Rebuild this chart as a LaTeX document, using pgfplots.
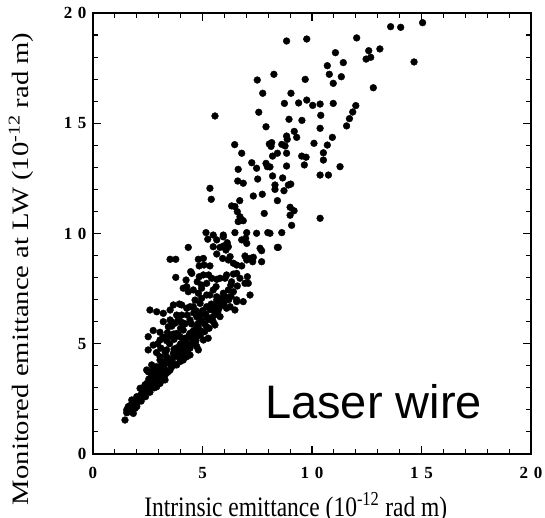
\documentclass[border=0pt]{standalone}
\usepackage{pgfplots}
\pgfplotsset{compat=1.18}
\usepackage{graphicx}
\usepackage{fontspec}
\setmainfont{Liberation Serif}
\newfontfamily\arialfont{Liberation Sans}
\pgfplotstableread{
x y
8.84 18.73
9.76 18.82
12.04 18.87
13.59 19.38
14.05 19.35
15.05 19.56
11.07 18.20
12.59 18.29
13.10 18.37
12.47 17.91
12.68 17.99
11.43 17.75
10.70 17.61
14.66 17.78
8.26 17.22
10.79 17.22
11.34 17.11
9.69 16.99
10.97 16.81
12.80 16.61
9.04 16.36
8.74 15.90
9.39 15.92
9.76 16.05
10.03 15.81
10.37 15.87
10.97 15.90
12.00 15.80
11.86 15.51
11.71 15.21
11.58 14.88
10.40 15.36
8.95 15.18
9.54 15.13
10.37 14.77
9.19 14.63
8.84 14.42
8.87 14.27
9.30 14.36
8.16 14.12
8.62 14.04
8.77 13.97
10.09 14.09
10.70 14.01
10.93 14.36
10.37 12.65
10.75 12.65
11.28 13.03
10.52 13.33
10.52 13.66
9.65 13.11
9.53 13.51
9.73 13.46
10.37 10.69
8.20 13.51
8.42 13.64
8.84 13.64
8.84 13.06
8.08 13.02
8.20 12.61
8.66 12.52
8.31 12.20
8.31 12.00
8.72 11.94
8.92 12.20
9.03 12.24
8.42 11.49
9.00 11.19
9.18 11.03
9.00 10.83
9.07 10.37
8.62 10.04
8.08 10.01
8.42 9.37
7.50 16.96
7.75 16.36
7.57 15.50
5.57 15.33
7.90 14.84
6.47 14.03
8.05 14.06
8.13 13.95
6.79 13.64
7.25 13.21
7.47 12.96
7.90 13.18
7.96 13.03
6.63 12.91
7.52 12.47
6.61 12.38
6.86 12.28
5.34 12.05
5.40 11.55
7.32 11.70
7.73 11.78
6.70 11.49
6.33 11.25
6.48 11.22
6.59 10.99
6.71 10.76
6.79 10.61
6.63 10.54
6.86 10.58
7.82 10.91
5.16 10.04
5.49 9.93
5.95 9.93
6.48 10.04
7.02 10.04
7.47 10.01
7.98 10.04
5.24 9.74
5.65 9.71
5.95 9.85
6.79 9.71
6.97 9.78
7.02 9.55
4.35 9.37
5.49 9.40
5.80 9.37
5.95 9.43
7.63 9.33
8.46 9.37
6.13 9.58
6.18 9.40
6.07 9.25
7.70 9.22
3.52 8.83
3.78 8.83
4.81 8.83
5.04 8.87
4.85 8.53
5.07 8.57
5.34 8.53
5.65 9.07
5.92 8.87
6.18 8.80
6.26 8.95
6.41 8.65
6.56 8.57
6.79 8.53
6.94 8.98
7.17 8.87
7.32 8.92
7.02 8.80
7.29 8.72
7.70 8.72
4.46 8.27
4.85 8.04
5.28 8.12
5.65 7.92
6.03 7.97
6.41 8.16
6.71 7.97
7.05 8.04
3.78 8.01
4.25 7.89
4.76 7.81
5.19 7.74
4.28 7.59
4.96 7.66
5.62 7.59
6.29 7.66
6.59 7.62
7.09 7.74
4.51 8.19
5.04 8.12
5.42 7.97
5.80 7.97
6.10 8.12
6.33 7.81
6.56 8.19
6.94 7.74
4.12 7.52
4.35 7.36
4.58 7.44
4.81 7.29
4.96 7.52
5.19 7.21
5.49 7.44
5.65 7.13
5.95 7.29
6.18 7.44
6.41 7.36
6.56 6.99
6.86 6.91
7.17 7.21
2.60 6.53
2.91 6.45
3.21 6.38
3.52 6.53
3.82 6.30
4.05 6.76
4.28 6.61
4.58 6.68
4.89 6.83
5.19 6.68
5.49 6.53
5.80 6.76
6.10 6.61
6.48 6.53
5.49 6.00
5.57 5.85
5.19 6.22
4.74 6.22
4.43 6.08
3.97 6.00
3.59 6.00
3.21 6.00
2.52 5.32
2.52 4.72
2.75 5.60
3.06 5.52
3.36 5.14
3.67 5.44
3.97 5.32
4.12 5.62
4.43 5.47
4.74 5.32
5.04 5.17
5.26 5.25
4.66 5.02
4.28 4.87
3.97 4.72
3.67 4.57
3.36 4.72
3.06 4.41
2.90 3.96
2.68 4.04
2.45 3.81
3.14 3.52
3.52 3.81
3.82 4.04
4.12 4.26
4.43 4.49
4.81 4.72
2.15 2.98
2.37 2.90
2.22 2.75
2.00 2.60
1.77 2.45
1.61 2.15
1.69 1.92
1.84 1.84
1.54 2.00
1.46 1.54
2.00 2.15
2.45 3.20
2.75 3.27
2.91 3.05
3.06 3.20
2.68 3.51
2.37 3.13
3.67 6.76
3.94 6.80
4.43 6.68
4.66 6.98
4.96 7.06
5.34 7.21
5.65 6.98
6.03 7.13
6.26 6.68
6.56 6.91
5.80 6.23
5.19 5.77
4.81 5.93
4.05 6.30
3.74 5.93
3.52 6.08
3.44 5.77
2.75 4.94
3.06 5.17
3.44 5.32
3.82 5.47
4.20 5.25
4.58 5.17
4.74 4.87
4.43 4.80
4.05 4.64
3.36 4.41
3.06 4.26
2.75 3.81
2.52 3.73
2.90 3.51
3.21 3.73
3.60 3.96
3.97 4.19
4.28 4.41
2.68 3.28
2.45 2.90
2.30 2.60
2.15 2.45
2.00 2.30
1.84 2.15
1.54 1.87
1.92 2.07
2.60 3.05
3.29 3.36
2.20 2.40
2.40 2.60
2.60 2.80
2.80 3.00
3.00 3.40
3.20 3.50
3.30 3.60
3.45 3.75
3.60 4.20
3.75 4.05
3.90 4.40
4.05 4.40
4.20 4.60
4.35 4.75
4.55 5.00
4.70 5.15
4.90 5.40
5.10 5.55
5.30 5.70
5.45 6.20
5.70 6.45
5.95 6.75
6.20 7.00
3.10 3.90
3.30 4.10
3.50 4.30
3.80 4.80
4.00 5.00
4.20 5.10
4.40 5.40
4.60 5.60
4.80 5.80
5.00 6.00
4.00 5.70
4.20 5.90
4.60 6.40
5.00 6.50
5.40 6.80
3.10 4.80
2.90 4.60
3.40 5.50
3.60 5.80
3.90 6.10
1.70 2.20
1.90 2.40
2.10 2.60
2.30 2.85
2.50 3.00
2.55 3.40
2.70 3.60
2.85 3.30
2.95 3.75
3.05 3.60
3.15 4.10
3.25 3.90
3.35 4.25
3.40 3.70
3.55 4.05
3.65 4.35
3.70 4.75
3.85 4.60
3.95 4.90
4.10 4.85
4.15 5.20
4.30 5.00
4.35 5.30
4.50 5.25
4.55 5.55
4.70 5.45
4.75 5.75
4.90 5.60
4.95 6.05
5.10 5.90
5.15 6.35
5.30 6.10
5.35 6.55
5.55 6.30
5.60 6.70
5.75 6.60
5.85 7.05
6.00 6.90
6.30 7.15
3.30 4.60
3.50 5.00
3.70 5.20
3.90 5.40
4.10 5.95
4.30 6.30
4.50 5.90
4.70 6.50
4.90 6.30
3.20 5.30
2.95 5.00
}\datatable
\begin{document}
\begin{tikzpicture}
\clip (-93pt,-64pt) rectangle (452pt,454pt);
\begin{axis}[
  scale only axis, width=438pt, height=441pt,
  xmin=0, xmax=20, ymin=0, ymax=20,
  xtick={0,5,10,15,20}, ytick={0,5,10,15,20},
  xticklabels={0,5,1\,\,0,1\,\,5,2\,\,0},
  yticklabels={0,5,1\,\,0,1\,\,5,2\,\,0},
  minor tick num=4,
  tick align=inside,
  xtick pos=both, ytick pos=both,
  major tick length=8pt, minor tick length=5pt,
  every tick/.style={black, line width=1.1pt},
  axis line style={line width=1.2pt},
  ticklabel style={font=\fontsize{17}{17}\selectfont\bfseries},
  xticklabel style={yshift=-10pt},
  yticklabel style={xshift=-3pt},
  xlabel={\scalebox{1}[1.2]{Intrinsic emittance (10\textsuperscript{-12} rad m)}},
  ylabel={\scalebox{1.22}[1]{Monitored emittance at LW (10\textsuperscript{-12} rad m)}},
  every axis x label/.style={at={(rel axis cs:0.463,0)}, anchor=base, yshift=-62pt, font=\fontsize{23.5}{24}\selectfont},
  every axis y label/.style={at={(rel axis cs:-0.164,0.42)}, rotate=90, anchor=center, font=\fontsize{23.5}{24}\selectfont},
]
\addplot[only marks, mark=*, mark size=3.4pt, black] table[x=x,y=y] {\datatable};
\node[anchor=base west, inner sep=0pt, font=\arialfont\fontsize{47}{47}\selectfont] at (axis cs:7.85,1.59) {Laser wire};
\end{axis}
\end{tikzpicture}
\end{document}
